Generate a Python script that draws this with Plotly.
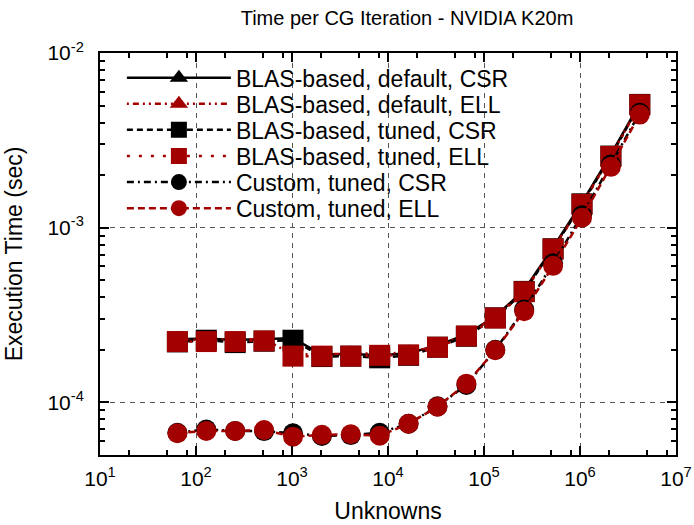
import plotly.graph_objects as go

unknowns = [64, 128, 256, 512, 1024, 2048, 4096, 8192, 16384, 32768, 65536,
            131072, 262144, 524288, 1048576, 2097152, 4194304]

blas_default_csr = [2.30e-4, 2.32e-4, 2.28e-4, 2.31e-4, 2.33e-4, 1.88e-4, 1.89e-4, 1.86e-4, 1.91e-4,
                    2.12e-4, 2.45e-4, 3.10e-4, 4.40e-4, 7.70e-4, 1.39e-3, 2.62e-3, 5.15e-3]
blas_default_ell = [2.28e-4, 2.29e-4, 2.29e-4, 2.30e-4, 1.88e-4, 1.89e-4, 1.89e-4, 1.91e-4, 1.92e-4,
                    2.11e-4, 2.44e-4, 3.08e-4, 4.36e-4, 7.62e-4, 1.37e-3, 2.58e-3, 5.10e-3]
blas_tuned_csr = [2.22e-4, 2.27e-4, 2.20e-4, 2.24e-4, 2.27e-4, 1.83e-4, 1.84e-4, 1.80e-4, 1.86e-4,
                  2.07e-4, 2.39e-4, 3.05e-4, 4.32e-4, 7.58e-4, 1.37e-3, 2.57e-3, 5.08e-3]
blas_tuned_ell = [2.23e-4, 2.23e-4, 2.23e-4, 2.25e-4, 1.84e-4, 1.84e-4, 1.84e-4, 1.86e-4, 1.87e-4,
                  2.07e-4, 2.40e-4, 3.04e-4, 4.30e-4, 7.54e-4, 1.36e-3, 2.56e-3, 5.06e-3]
custom_tuned_csr = [6.70e-5, 7.00e-5, 6.87e-5, 6.85e-5, 6.66e-5, 6.42e-5, 6.50e-5, 6.70e-5, 7.55e-5,
                    9.50e-5, 1.26e-4, 2.00e-4, 3.40e-4, 6.25e-4, 1.18e-3, 2.30e-3, 4.55e-3]
custom_tuned_ell = [6.66e-5, 6.87e-5, 6.87e-5, 6.95e-5, 6.37e-5, 6.52e-5, 6.57e-5, 6.45e-5, 7.55e-5,
                    9.45e-5, 1.28e-4, 1.99e-4, 3.33e-4, 6.05e-4, 1.14e-3, 2.23e-3, 4.44e-3]

series_names = ["BLAS-based, default, CSR", "BLAS-based, default, ELL",
                "BLAS-based, tuned, CSR", "BLAS-based, tuned, ELL",
                "Custom, tuned, CSR", "Custom, tuned, ELL"]
series_values = [blas_default_csr, blas_default_ell, blas_tuned_csr,
                 blas_tuned_ell, custom_tuned_csr, custom_tuned_ell]

x_tick_vals = [1e1, 1e2, 1e3, 1e4, 1e5, 1e6, 1e7]
x_tick_text = ["10<sup>1</sup>", "10<sup>2</sup>", "10<sup>3</sup>", "10<sup>4</sup>",
               "10<sup>5</sup>", "10<sup>6</sup>", "10<sup>7</sup>"]
y_tick_vals = [1e-4, 1e-3, 1e-2]
y_tick_text = ["10<sup>-4</sup>", "10<sup>-3</sup>", "10<sup>-2</sup>"]

RED = "#a30000"
BLACK = "#000000"
styles = [
    dict(color=BLACK, dash="solid", symbol="triangle-up", size=17),
    dict(color=RED, dash="2px,4px,6px,4px,2px,4px", symbol="triangle-up", size=17),
    dict(color=BLACK, dash="6px,4px", symbol="square", size=21),
    dict(color=RED, dash="3px,9px", symbol="square", size=21),
    dict(color=BLACK, dash="7px,4px,2px,4px", symbol="circle", size=20),
    dict(color=RED, dash="7px,4px", symbol="circle", size=20),
]

FONT = "Liberation Sans, Arial, sans-serif"
fig = go.Figure()
legend_ids = ["legend", "legend2", "legend3", "legend4", "legend5", "legend6"]
for name, vals, st, lg in zip(series_names, series_values, styles, legend_ids):
    fig.add_trace(go.Scatter(
        x=unknowns, y=vals, name=name, mode="lines+markers", legend=lg,
        line=dict(color=st["color"], width=2.5, dash=st["dash"]),
        marker=dict(symbol=st["symbol"], size=st["size"], color=st["color"],
                    line=dict(width=0)),
    ))

minor_x = [m * 10 ** e for e in range(1, 7) for m in (2, 5, 8)]
minor_y = [m * 10 ** e for e in (-5, -4, -3) for m in range(2, 10)]

axis_common = dict(
    showline=True, linecolor="black", linewidth=2, mirror="allticks",
    ticks="inside", ticklen=9, tickwidth=1.5, tickcolor="black",
    showgrid=True, gridcolor="#555555", gridwidth=1.2, griddash="5px,5px",
    zeroline=False, tickmode="array", automargin=False,
    tickfont=dict(family=FONT, size=21, color="black"),
)

fig.update_xaxes(type="log", range=[1, 7], tickvals=x_tick_vals, ticktext=x_tick_text,
                 ticklabelstandoff=4,
                 title=dict(text="Unknowns", font=dict(family=FONT, size=23), standoff=14),
                 minor=dict(tickmode="array", tickvals=minor_x, ticks="inside", ticklen=5,
                            tickwidth=1.5, tickcolor="black", showgrid=False),
                 **axis_common)
fig.update_yaxes(type="log", range=[-4.301, -2], tickvals=y_tick_vals, ticktext=y_tick_text,
                 ticklabelstandoff=10,
                 title=dict(text="Execution Time (sec)", font=dict(family=FONT, size=23), standoff=18),
                 minor=dict(tickmode="array", tickvals=minor_y, ticks="inside", ticklen=5,
                            tickwidth=1.5, tickcolor="black", showgrid=False),
                 **axis_common)

PLOT_TOP, PLOT_BOTTOM = 53, 455
legend_centers_px = [77.7 + 26.1 * i for i in range(6)]
legend_layout = {}
for lg, cy in zip(legend_ids, legend_centers_px):
    legend_layout[lg] = dict(
        x=0.038, y=(PLOT_BOTTOM - cy) / (PLOT_BOTTOM - PLOT_TOP),
        xanchor="left", yanchor="middle",
        bgcolor="rgba(0,0,0,0)", borderwidth=0, itemwidth=104,
        font=dict(family=FONT, size=23, color="black"),
    )

fig.update_layout(
    width=694, height=525,
    margin=dict(l=100, r=18, t=53, b=70),
    paper_bgcolor="white", plot_bgcolor="white",
    font=dict(family=FONT, size=21, color="black"),
    title=dict(text="Time per CG Iteration - NVIDIA K20m", x=0.5865, xanchor="center",
               y=0.966, yanchor="middle", font=dict(family=FONT, size=20)),
    showlegend=True,
    **legend_layout,
)

fig.write_html("out.html")
